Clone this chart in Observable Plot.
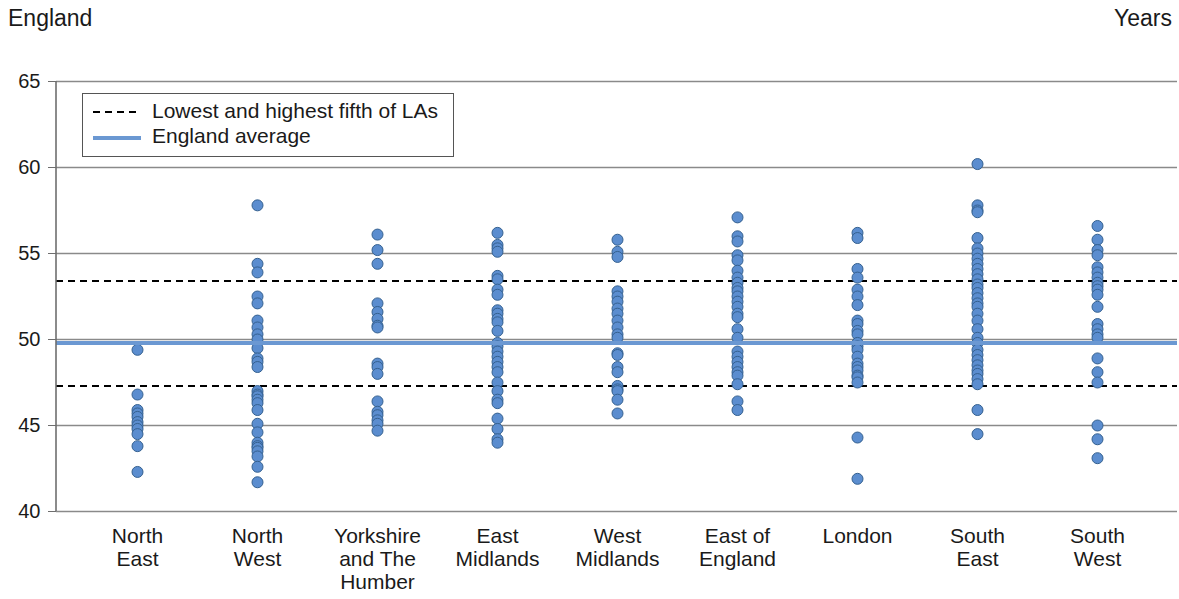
<!DOCTYPE html>
<html>
<head>
<meta charset="utf-8">
<script src="https://cdn.jsdelivr.net/npm/d3@7"></script>
<script src="https://cdn.jsdelivr.net/npm/@observablehq/plot@0.6"></script>
<style>
  body { margin: 0; background: #fff; font-family: "Liberation Sans", Arial, sans-serif; }
  #wrap { position: relative; width: 1179px; height: 599px; }
  #wrap svg { position: absolute; left: 0; top: 0; }
  .hdr { position: absolute; top: 7px; font-size: 23px; line-height: 23px; color: #1a1a1a; white-space: nowrap; }
  #legend { position: absolute; left: 82px; top: 93px; width: 372px; height: 64px; box-sizing: border-box;
            border: 1px solid #555; background: #fff; font-size: 21px; line-height: 21px; color: #1a1a1a; }
  #legend .item { position: absolute; left: 69px; white-space: nowrap; }
  #legend svg.sw { position: absolute; left: 10px; }
</style>
</head>
<body>
<div id="wrap">
  <div class="hdr" style="left:8px">England</div>
  <div class="hdr" style="right:7px">Years</div>
</div>
<script>
// Regions (English regions, in display order) and their wrapped axis labels
const regions = ["North East", "North West", "Yorkshire and The Humber", "East Midlands",
  "West Midlands", "East of England", "London", "South East", "South West"];
const regionLabels = ["North\nEast", "North\nWest", "Yorkshire\nand The\nHumber", "East\nMidlands",
  "West\nMidlands", "East of\nEngland", "London", "South\nEast", "South\nWest"];

// Median age (years) of each local authority, by region
const northEast = [49.4, 46.8, 45.9, 45.7, 45.5, 45.2, 45.0, 44.8, 44.5, 43.8, 42.3];
const northWest = [57.8, 54.4, 53.9, 52.5, 52.1, 51.1, 50.7, 50.3, 50.0, 49.5, 48.9, 48.7, 48.4,
  47.0, 46.8, 46.7, 46.5, 46.3, 45.9, 45.1, 44.6, 44.0, 43.8, 43.7, 43.5, 43.2, 42.6, 41.7];
const yorkshire = [56.1, 55.2, 54.4, 52.1, 51.6, 51.2, 50.8, 50.7, 48.6, 48.4, 48.0, 46.4, 45.8,
  45.6, 45.3, 45.1, 44.7];
const eastMidlands = [56.2, 55.5, 55.3, 55.1, 53.7, 53.5, 52.9, 52.6, 51.7, 51.5, 51.2, 51.0, 50.5,
  49.8, 49.6, 49.3, 49.0, 48.7, 48.4, 48.1, 47.5, 47.0, 46.5, 46.3, 45.4, 44.8, 44.2, 44.0];
const westMidlands = [55.8, 55.1, 54.8, 52.8, 52.5, 52.2, 51.8, 51.5, 51.1, 50.7, 50.3, 50.1, 49.2,
  49.1, 48.4, 48.1, 47.3, 47.1, 47.0, 46.5, 45.7];
const eastOfEngland = [57.1, 56.0, 55.7, 54.9, 54.6, 54.0, 53.6, 53.3, 53.0, 52.8, 52.5, 52.2, 51.9,
  51.5, 51.3, 50.6, 50.1, 49.3, 49.0, 48.7, 48.4, 48.1, 47.9, 47.4, 46.4, 45.9];
const london = [56.2, 55.9, 54.1, 53.6, 52.9, 52.5, 52.0, 51.1, 50.9, 50.5, 50.3, 49.8, 49.6, 49.4,
  49.0, 48.6, 48.4, 48.2, 47.9, 47.8, 47.5, 44.3, 41.9];
const southEast = [60.2, 57.8, 57.5, 57.4, 55.9, 55.3, 55.0, 54.7, 54.4, 54.1, 53.8, 53.5, 53.2, 53.0,
  52.7, 52.4, 52.1, 51.9, 51.5, 51.1, 50.6, 50.1, 49.8, 49.4, 49.1, 48.8, 48.5, 48.2, 48.0, 47.7,
  47.4, 45.9, 44.5];
const southWest = [56.6, 55.8, 55.2, 54.9, 54.2, 53.9, 53.6, 53.3, 53.1, 52.9, 52.6, 51.9, 50.9,
  50.6, 50.3, 50.1, 48.9, 48.1, 47.5, 45.0, 44.2, 43.1];

// Reference levels (years)
const fifthBounds = [47.3, 53.4];   // lowest and highest fifth of LAs
const englandAverage = 49.8;
const yTicks = [40, 45, 50, 55, 60, 65];

const series = [northEast, northWest, yorkshire, eastMidlands, westMidlands,
  eastOfEngland, london, southEast, southWest];
const rows = series.flatMap((vals, i) => vals.map(age => ({region: regions[i], age})));
const labelOf = new Map(regions.map((r, i) => [r, regionLabels[i]]));

// Vertical axis line along the left edge of the frame
const leftLine = (index, scales, values, dims) =>
  d3.create("svg:line")
    .attr("x1", dims.marginLeft).attr("x2", dims.marginLeft)
    .attr("y1", dims.marginTop).attr("y2", dims.height - dims.marginBottom)
    .attr("stroke", "#6e6e6e").attr("stroke-width", 1.6)
    .node();

const chart = Plot.plot({
  width: 1179,
  height: 599,
  marginTop: 81,
  marginBottom: 88,
  marginLeft: 56,
  marginRight: 2,
  style: {fontFamily: "'Liberation Sans', Arial, sans-serif", fontSize: "20px", color: "#1a1a1a", background: "transparent"},
  x: {type: "point", domain: regions, padding: 2 / 3, label: null},
  y: {domain: [40, 65], label: null},
  marks: [
    Plot.ruleY(yTicks, {stroke: "#8a8a8a", strokeWidth: 1.4}),
    Plot.ruleY(fifthBounds, {stroke: "#000", strokeWidth: 2, strokeDasharray: "7,5"}),
    Plot.dot(rows, {x: "region", y: "age", r: 5.5, fill: "#5b8dcf", stroke: "#34608f", strokeWidth: 1}),
    Plot.ruleY([englandAverage], {stroke: "#6b98d2", strokeWidth: 4}),
    leftLine,
    Plot.axisY({ticks: yTicks, label: null, tickSize: 8, tickPadding: 8, fontSize: 20, stroke: "#6e6e6e", fill: "#1a1a1a"}),
    Plot.axisX({label: null, tickSize: 0, tickPadding: 15, fontSize: 21, lineHeight: 1.1, fill: "#1a1a1a",
      tickFormat: d => labelOf.get(d)})
  ]
});

const wrap = document.getElementById("wrap");
wrap.insertBefore(chart, wrap.firstChild);

// Legend box
const legend = document.createElement("div");
legend.id = "legend";
legend.innerHTML = `
  <svg class="sw" width="48" height="6" style="top:15px"><line x1="0" x2="48" y1="3" y2="3" stroke="#000" stroke-width="2" stroke-dasharray="7,5"/></svg>
  <div class="item" style="top:6px">Lowest and highest fifth of LAs</div>
  <svg class="sw" width="48" height="6" style="top:41px"><line x1="0" x2="48" y1="3" y2="3" stroke="#6b98d2" stroke-width="4"/></svg>
  <div class="item" style="top:31px">England average</div>`;
wrap.appendChild(legend);
</script>
</body>
</html>
